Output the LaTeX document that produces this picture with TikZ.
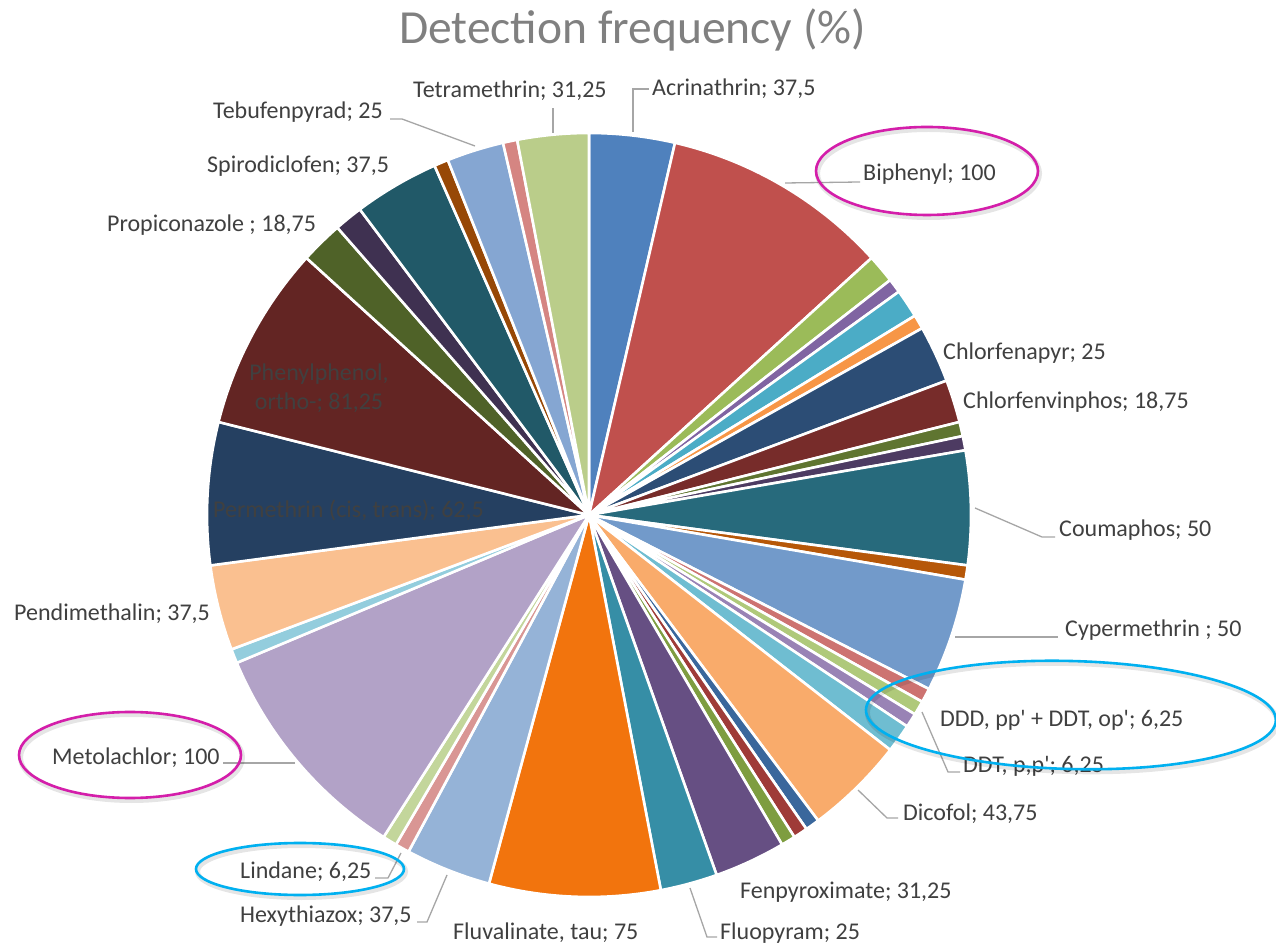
\documentclass[tikz,border=0pt]{standalone}
\usepackage{fontspec}
\setmainfont{Carlito}[Ligatures=TeXOff]
\definecolor{s1}{HTML}{4F81BD}\definecolor{s2}{HTML}{C0504D}\definecolor{s3}{HTML}{9BBB59}
\definecolor{s4}{HTML}{8064A2}\definecolor{s5}{HTML}{4BACC6}\definecolor{s6}{HTML}{F79646}
\definecolor{s7}{HTML}{2C4D75}\definecolor{s8}{HTML}{772C2A}\definecolor{s9}{HTML}{5F7530}
\definecolor{s10}{HTML}{4D3B62}\definecolor{s11}{HTML}{276A7C}\definecolor{s12}{HTML}{B65708}
\definecolor{s13}{HTML}{729ACA}\definecolor{s14}{HTML}{CD7371}\definecolor{s15}{HTML}{AFC97A}
\definecolor{s16}{HTML}{9983B5}\definecolor{s17}{HTML}{6FBDD1}\definecolor{s18}{HTML}{F9AB6B}
\definecolor{s19}{HTML}{3A679C}\definecolor{s20}{HTML}{9F3B38}\definecolor{s21}{HTML}{7E9D40}
\definecolor{s22}{HTML}{664F83}\definecolor{s23}{HTML}{368EA6}\definecolor{s24}{HTML}{F2740D}
\definecolor{s25}{HTML}{95B3D7}\definecolor{s26}{HTML}{D99694}\definecolor{s27}{HTML}{C3D69B}
\definecolor{s28}{HTML}{B2A2C7}\definecolor{s29}{HTML}{93CDDD}\definecolor{s30}{HTML}{FAC090}
\definecolor{s31}{HTML}{254061}\definecolor{s32}{HTML}{632523}\definecolor{s33}{HTML}{4F6228}
\definecolor{s34}{HTML}{3F3151}\definecolor{s35}{HTML}{215968}\definecolor{s36}{HTML}{974806}
\definecolor{s37}{HTML}{85A6D2}\definecolor{s38}{HTML}{D58582}\definecolor{s39}{HTML}{BACD8A}
\definecolor{lbltext}{HTML}{404040}
\definecolor{titletext}{HTML}{808080}
\definecolor{leadcol}{HTML}{A6A6A6}
\definecolor{magring}{HTML}{D41EAA}
\definecolor{cyanring}{HTML}{00B0F0}
\begin{document}
\begin{tikzpicture}[x=1pt,y=1pt,
  lbl/.style={inner sep=0pt,anchor=base west,text=lbltext,font=\fontsize{24}{28}\selectfont},
  inlbl/.style={inner sep=0pt,anchor=base,text=lbltext,font=\fontsize{24}{28}\selectfont},
  leader/.style={draw=leadcol,line width=1.3pt},
  ring/.style={line width=2.6pt},
  ringshadow/.style={draw=black,opacity=0.10,line width=5pt},
  slice/.style={draw=white,line width=2.6pt,line join=round}]
\useasboundingbox (0,0) rectangle (1276,945);
\fill[white] (0,0) rectangle (1276,945);
\coordinate (pc) at (589,430);
% slices: start angle / end angle (clockwise from north) / colour
\foreach \a/\b/\c in {
 0/13.012/s1, 13.012/47.711/s2, 47.711/52.048/s3, 52.048/54.217/s4,
 54.217/58.554/s5, 58.554/60.723/s6, 60.723/69.398/s7, 69.398/75.904/s8,
 75.904/78.072/s9, 78.072/80.241/s10, 80.241/97.590/s11, 97.590/99.759/s12,
 99.759/117.108/s13, 117.108/119.277/s14, 119.277/121.446/s15, 121.446/123.614/s16,
 123.614/127.952/s17, 127.952/143.133/s18, 143.133/145.301/s19, 145.301/147.470/s20,
 147.470/149.639/s21, 149.639/160.482/s22, 160.482/169.157/s23, 169.157/195.181/s24,
 195.181/208.193/s25, 208.193/210.361/s26, 210.361/212.530/s27, 212.530/247.229/s28,
 247.229/249.398/s29, 249.398/262.410/s30, 262.410/284.096/s31, 284.096/312.289/s32,
 312.289/318.795/s33, 318.795/323.133/s34, 323.133/336.145/s35, 336.145/338.313/s36,
 338.313/346.988/s37, 346.988/349.157/s38, 349.157/360/s39}
{
 \filldraw[slice,fill=\c] (pc) -- ([shift={({90-\a}:382)}]pc)
   arc[start angle={90-\a}, end angle={90-\b}, radius=382] -- cycle;
}
% title
\node[inner sep=0pt,anchor=base,text=titletext,font=\fontsize{47.5}{56}\selectfont] (title) at (632.5,901) {Detection frequency (\%)};
% labels
\node[lbl] (acr) at (652,849) {Acrinathrin; 37,5};
\node[lbl] (tet) at (413,847) {Tetramethrin; 31,25};
\node[lbl] (teb) at (213,826) {Tebufenpyrad; 25};
\node[lbl] (spi) at (207,772) {Spirodiclofen; 37,5};
\node[lbl] (pro) at (107,713) {Propiconazole ; 18,75};
\node[lbl] (bip) at (863,764) {Biphenyl; 100};
\node[lbl] (cfa) at (943,585) {Chlorfenapyr; 25};
\node[lbl] (cfv) at (963,536) {Chlorfenvinphos; 18,75};
\node[lbl] (cou) at (1059,408) {Coumaphos; 50};
\node[lbl] (cyp) at (1065,308) {Cypermethrin ; 50};
\node[lbl] (ddd) at (940,218) {DDD, pp' + DDT, op'; 6,25};
\node[lbl] (ddt) at (963,172) {DDT, p,p'; 6,25};
\node[lbl] (dic) at (903,125) {Dicofol; 43,75};
\node[lbl] (fen) at (740,47) {Fenpyroximate; 31,25};
\node[lbl] (flo) at (720,6) {Fluopyram; 25};
\node[lbl] (flv) at (453,6) {Fluvalinate, tau; 75};
\node[lbl] (hex) at (240,23) {Hexythiazox; 37,5};
\node[lbl] (lin) at (240,67) {Lindane; 6,25};
\node[lbl] (met) at (52,181) {Metolachlor; 100};
\node[lbl] (pen) at (14,324) {Pendimethalin; 37,5};
\node[lbl] (per) at (213,427) {Permethrin (cis, trans); 62,5};
\node[inlbl] (phe1) at (319,564) {Phenylphenol,};
\node[inlbl] (phe2) at (319,535) {ortho-; 81,25};
% leader lines
\coordinate (acrP) at (633,813); \coordinate (acrK) at (633,856); \coordinate (acrE) at (649,856);
\draw[leader] (acrP) -- (acrK) -- (acrE);
\coordinate (tetP) at (553,812); \coordinate (tetE) at (553,837);
\draw[leader] (tetP) -- (tetE);
\coordinate (tebP) at (475,799); \coordinate (tebK) at (402,826); \coordinate (tebE) at (390,826);
\draw[leader] (tebP) -- (tebK) -- (tebE);
\coordinate (bipP) at (785,762); \coordinate (bipE) at (860,763);
\draw[leader] (bipP) -- (bipE);
\coordinate (couP) at (975,437); \coordinate (couK) at (1042,408); \coordinate (couE) at (1055,408);
\draw[leader] (couP) -- (couK) -- (couE);
\coordinate (cypP) at (955,308); \coordinate (cypE) at (1058,308);
\draw[leader] (cypP) -- (cypE);
\coordinate (ddtP) at (922,233); \coordinate (ddtK) at (948,173); \coordinate (ddtE) at (960,173);
\draw[leader] (ddtP) -- (ddtK) -- (ddtE);
\coordinate (dicP) at (858,155); \coordinate (dicK) at (887,127); \coordinate (dicE) at (898,127);
\draw[leader] (dicP) -- (dicK) -- (dicE);
\coordinate (floP) at (690,57); \coordinate (floK) at (707,8); \coordinate (floE) at (717,8);
\draw[leader] (floP) -- (floK) -- (floE);
\coordinate (hexP) at (447,70); \coordinate (hexK) at (427,23); \coordinate (hexE) at (417,23);
\draw[leader] (hexP) -- (hexK) -- (hexE);
\coordinate (linP) at (401,92); \coordinate (linK) at (388,67); \coordinate (linE) at (375,67);
\draw[leader] (linP) -- (linK) -- (linE);
\coordinate (metP) at (295,182); \coordinate (metE) at (223,182);
\draw[leader] (metP) -- (metE);
% highlight rings
\coordinate (bipR) at (927,774);
\coordinate (metR) at (130,190);
\coordinate (linR) at (300,76);
\coordinate (dddR) at (1071,230);
\draw[ringshadow] ([shift={(1.5,-2.5)}]bipR) ellipse[x radius=111,y radius=44];
\draw[ringshadow] ([shift={(1.5,-2.5)}]metR) ellipse[x radius=111,y radius=43];
\draw[ringshadow] ([shift={(1.5,-2.5)}]linR) ellipse[x radius=104,y radius=26];
\draw[ringshadow,rotate around={-1.5:(dddR)}] ([shift={(1.5,-2.5)}]dddR) ellipse[x radius=205,y radius=54];
\draw[ring,draw=magring] (bipR) ellipse[x radius=111,y radius=44];
\draw[ring,draw=magring] (metR) ellipse[x radius=111,y radius=43];
\draw[ring,draw=cyanring] (linR) ellipse[x radius=104,y radius=26];
\draw[ring,draw=cyanring,rotate around={-1.5:(dddR)}] (dddR) ellipse[x radius=205,y radius=54];
\end{tikzpicture}
\end{document}
